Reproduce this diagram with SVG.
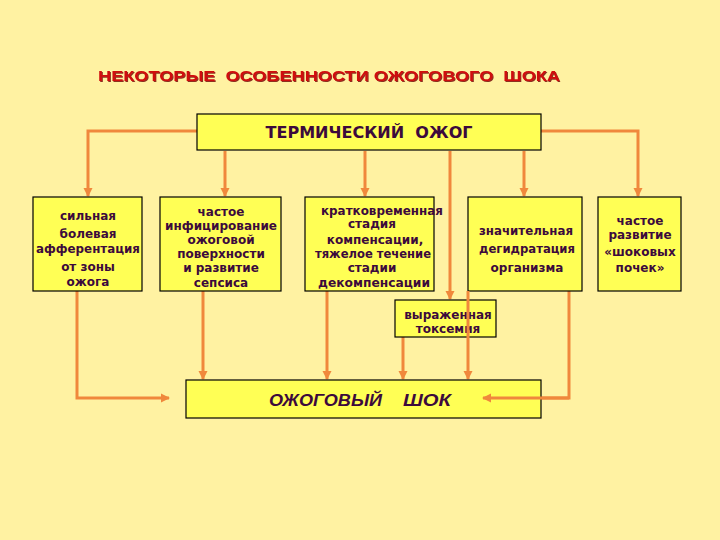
<svg xmlns="http://www.w3.org/2000/svg" width="720" height="540" viewBox="0 0 720 540">
<style>
.box{fill:#FFFF55;stroke:#000;stroke-width:1.2}
.t{font-family:"DejaVu Sans",Verdana,sans-serif;font-weight:bold;font-size:12px;fill:#3C0A3C;text-anchor:middle}
.c{fill:none;stroke:#F0883C;stroke-width:3}
</style>
<defs>
<marker id="ah" markerUnits="userSpaceOnUse" markerWidth="10" markerHeight="10" refX="8" refY="5" orient="auto">
<path d="M0,0.5 L9,5 L0,9.5 z" fill="#F0883C"/>
</marker>
<filter id="sh" x="-5%" y="-30%" width="110%" height="160%">
<feDropShadow dx="1" dy="1" stdDeviation="0.3" flood-color="#700000" flood-opacity="0.8"/>
</filter>
</defs>
<rect width="720" height="540" fill="#FFF2A2"/>
<g id="title">
<text x="98" y="81" font-family="Liberation Sans,Arial,sans-serif" font-weight="bold" font-size="14.5" fill="#D01010" filter="url(#sh)" textLength="462" lengthAdjust="spacingAndGlyphs" xml:space="preserve">НЕКОТОРЫЕ  ОСОБЕННОСТИ ОЖОГОВОГО  ШОКА</text>
</g>
<g id="connectors">
<polyline class="c" points="197,131 88,131 88,196" marker-end="url(#ah)"/>
<polyline class="c" points="541,131 638,131 638,196" marker-end="url(#ah)"/>
<line class="c" x1="225" y1="151" x2="225" y2="196" marker-end="url(#ah)"/>
<line class="c" x1="365" y1="151" x2="365" y2="196" marker-end="url(#ah)"/>
<line class="c" x1="524" y1="151" x2="524" y2="196" marker-end="url(#ah)"/>
<line class="c" x1="450" y1="151" x2="450" y2="299" marker-end="url(#ah)"/>
<polyline class="c" points="77,291 77,398 169,398" marker-end="url(#ah)"/>
<line class="c" x1="203" y1="291" x2="203" y2="379" marker-end="url(#ah)"/>
<line class="c" x1="327" y1="291" x2="327" y2="379" marker-end="url(#ah)"/>
<line class="c" x1="403" y1="337" x2="403" y2="379" marker-end="url(#ah)"/>
<polyline class="c" points="569,291 569,398 483,398" marker-end="url(#ah)"/>
</g>
<g id="n-top">
<rect class="box" x="197" y="114" width="344" height="36"/>
<text x="369" y="138" font-family="DejaVu Sans,Verdana,sans-serif" font-weight="bold" font-size="15" fill="#3C0A3C" text-anchor="middle" textLength="207" lengthAdjust="spacingAndGlyphs" xml:space="preserve">ТЕРМИЧЕСКИЙ  ОЖОГ</text>
</g>
<g id="n1">
<rect class="box" x="33" y="197" width="109" height="94"/>
<text class="t" x="88" y="220">сильная</text>
<text class="t" x="88" y="238">болевая</text>
<text class="t" x="88" y="253" textLength="104" lengthAdjust="spacingAndGlyphs">афферентация</text>
<text class="t" x="88" y="271">от зоны</text>
<text class="t" x="88" y="286">ожога</text>
</g>
<g id="n2">
<rect class="box" x="160" y="197" width="121" height="94"/>
<text class="t" x="221" y="216">частое</text>
<text class="t" x="221" y="230" textLength="112" lengthAdjust="spacingAndGlyphs">инфицирование</text>
<text class="t" x="221" y="244">ожоговой</text>
<text class="t" x="221" y="258">поверхности</text>
<text class="t" x="221" y="272">и развитие</text>
<text class="t" x="221" y="287">сепсиса</text>
</g>
<g id="n3">
<rect class="box" x="305" y="197" width="129" height="94"/>
<text class="t" x="382" y="215" textLength="122" lengthAdjust="spacingAndGlyphs">кратковременная</text>
<text class="t" x="372" y="228">стадия</text>
<text class="t" x="375" y="244">компенсации,</text>
<text class="t" x="373" y="258" textLength="116" lengthAdjust="spacingAndGlyphs">тяжелое течение</text>
<text class="t" x="372" y="272">стадии</text>
<text class="t" x="374" y="287" textLength="112" lengthAdjust="spacingAndGlyphs">декомпенсации</text>
</g>
<g id="n4">
<rect class="box" x="468" y="197" width="114" height="94"/>
<text class="t" x="526" y="235" textLength="94" lengthAdjust="spacingAndGlyphs">значительная</text>
<text class="t" x="527" y="253" textLength="96" lengthAdjust="spacingAndGlyphs">дегидратация</text>
<text class="t" x="527" y="272">организма</text>
</g>
<g id="n5">
<rect class="box" x="598" y="197" width="83" height="94"/>
<text class="t" x="640" y="225">частое</text>
<text class="t" x="640" y="239">развитие</text>
<text class="t" x="640" y="256">«шоковых</text>
<text class="t" x="640" y="272">почек»</text>
</g>
<g id="n-tox">
<rect class="box" x="395" y="300" width="101" height="37"/>
<text class="t" x="448" y="319">выраженная</text>
<text class="t" x="448" y="333">токсемия</text>
</g>
<line class="c" x1="468" y1="291" x2="468" y2="379" marker-end="url(#ah)"/>
<g id="n-shock">
<rect class="box" x="186" y="380" width="355" height="38"/>
<text font-family="Liberation Sans,Arial,sans-serif" font-weight="bold" font-style="italic" font-size="17" fill="#3C0A3C"><tspan x="269" y="406" textLength="113" lengthAdjust="spacingAndGlyphs">ОЖОГОВЫЙ</tspan><tspan x="403" y="406" textLength="48" lengthAdjust="spacingAndGlyphs">ШОК</tspan></text>
</g>
<polyline class="c" points="569,398 483,398" marker-end="url(#ah)"/>
</svg>
